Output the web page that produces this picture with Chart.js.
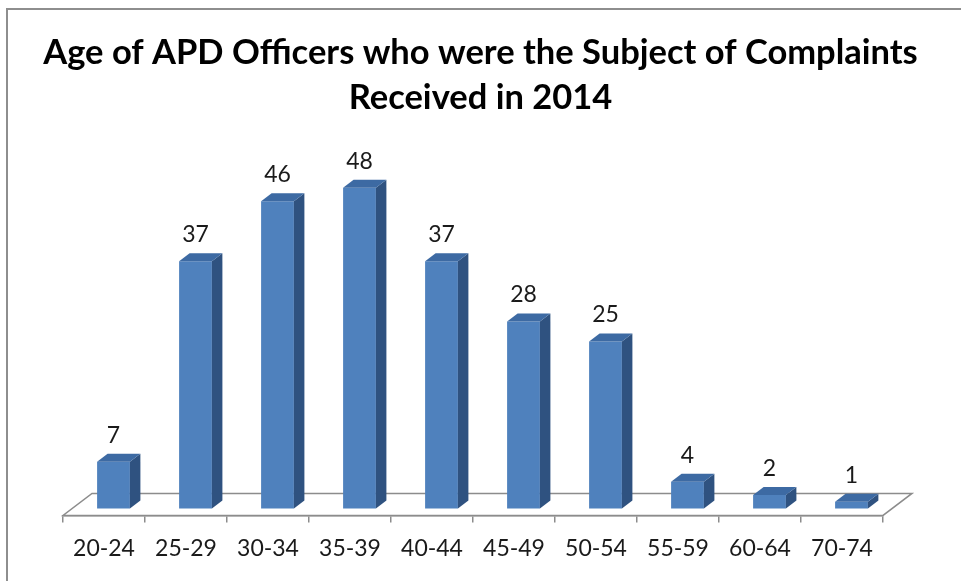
<!DOCTYPE html>
<html>
<head>
<meta charset="utf-8">
<script src="https://cdn.jsdelivr.net/npm/chart.js@4"></script>
<style>
  html, body { margin: 0; padding: 0; background: #ffffff; }
  #wrap { width: 961px; height: 581px; }
</style>
</head>
<body>
<div id="wrap"><canvas id="c" width="961" height="581"></canvas></div>
<script>
const titleLines = ['Age of APD Officers who were the Subject of Complaints', 'Received in 2014'];
const categories = ['20-24', '25-29', '30-34', '35-39', '40-44', '45-49', '50-54', '55-59', '60-64', '70-74'];
const counts = [7, 37, 46, 48, 37, 28, 25, 4, 2, 1];

const FRONT = '#4F81BD';
const SIDE = '#2F5280';
const TOP = '#3D6AA3';
const GRID = '#8c8c8c';

// 3D geometry
const FLOOR_DX = 29, FLOOR_DY = 22;
const BAR_SHIFT_X = 9.5, BAR_SHIFT_Y = 7;
const BAR_DX = 10.5, BAR_DY = 8;

const threeD = {
  id: 'threeD',
  beforeDraw(chart) {
    const ctx = chart.ctx;
    ctx.save();
    ctx.fillStyle = '#ffffff';
    ctx.fillRect(0, 0, chart.width, chart.height);
    // frame
    ctx.strokeStyle = '#8e8e8e';
    ctx.lineWidth = 2;
    ctx.beginPath();
    ctx.moveTo(7, chart.height);
    ctx.lineTo(7, 9);
    ctx.lineTo(chart.width, 9);
    ctx.stroke();
    ctx.restore();
  },
  beforeDatasetsDraw(chart) {
    const ctx = chart.ctx;
    const a = chart.chartArea;
    ctx.save();
    ctx.fillStyle = '#ffffff';
    ctx.strokeStyle = GRID;
    ctx.lineWidth = 1.5;
    ctx.beginPath();
    ctx.moveTo(a.left, a.bottom);
    ctx.lineTo(a.right, a.bottom);
    ctx.lineTo(a.right + FLOOR_DX, a.bottom - FLOOR_DY);
    ctx.lineTo(a.left + FLOOR_DX, a.bottom - FLOOR_DY);
    ctx.closePath();
    ctx.fill();
    ctx.stroke();
    ctx.restore();
    ctx.save();
    ctx.translate(BAR_SHIFT_X, -BAR_SHIFT_Y);
  },
  afterDatasetsDraw(chart) {
    const ctx = chart.ctx;
    const meta = chart.getDatasetMeta(0);
    meta.data.forEach((bar) => {
      const p = bar.getProps(['x', 'y', 'base', 'width'], true);
      const l = p.x - p.width / 2, r = p.x + p.width / 2;
      // side
      ctx.fillStyle = SIDE;
      ctx.beginPath();
      ctx.moveTo(r, p.y);
      ctx.lineTo(r + BAR_DX, p.y - BAR_DY);
      ctx.lineTo(r + BAR_DX, p.base - BAR_DY);
      ctx.lineTo(r, p.base);
      ctx.closePath();
      ctx.fill();
      // top
      ctx.fillStyle = TOP;
      ctx.beginPath();
      ctx.moveTo(l, p.y);
      ctx.lineTo(r, p.y);
      ctx.lineTo(r + BAR_DX, p.y - BAR_DY);
      ctx.lineTo(l + BAR_DX, p.y - BAR_DY);
      ctx.closePath();
      ctx.fill();
    });
    ctx.restore();
    // data labels
    ctx.save();
    ctx.fillStyle = '#1a1a1a';
    ctx.font = '23px Lato';
    ctx.textAlign = 'center';
    ctx.textBaseline = 'alphabetic';
    meta.data.forEach((bar, i) => {
      const p = bar.getProps(['x', 'y'], true);
      ctx.fillText(String(counts[i]), p.x + BAR_SHIFT_X, p.y - BAR_SHIFT_Y - 19);
    });
    ctx.restore();
  }
};

new Chart(document.getElementById('c'), {
  type: 'bar',
  data: {
    labels: categories,
    datasets: [{
      data: counts,
      backgroundColor: FRONT,
      borderWidth: 0,
      barPercentage: 0.4,
      categoryPercentage: 1.0,
      clip: false,
      yAxisID: 'y'
    }]
  },
  options: {
    responsive: false,
    animation: false,
    devicePixelRatio: 1,
    layout: { padding: { left: 0, right: 0, top: 0, bottom: 7 } },
    plugins: {
      legend: { display: false },
      tooltip: { enabled: false },
      title: {
        display: true,
        text: titleLines,
        color: '#000000',
        font: { family: 'Lato', size: 34.5, weight: 'bold', lineHeight: 45 / 34.5 },
        padding: { top: 30, bottom: 8 }
      }
    },
    scales: {
      x: {
        offset: true,
        grid: {
          display: true,
          offset: true,
          drawOnChartArea: false,
          drawTicks: true,
          tickLength: 7,
          color: GRID,
          lineWidth: 1.5
        },
        border: { display: true, color: GRID, width: 1.5 },
        ticks: {
          color: '#1a1a1a',
          font: { family: 'Lato', size: 23 },
          padding: 12,
          maxRotation: 0,
          autoSkip: false
        }
      },
      y: {
        display: true,
        position: 'left',
        min: 0,
        max: 58,
        grid: { display: false },
        border: { display: false },
        ticks: { display: false },
        afterFit: (s) => { s.width = 63; }
      },
      yRight: {
        display: true,
        position: 'right',
        min: 0,
        max: 58,
        grid: { display: false },
        border: { display: false },
        ticks: { display: false },
        afterFit: (s) => { s.width = 78; }
      }
    }
  },
  plugins: [threeD]
});
</script>
</body>
</html>
